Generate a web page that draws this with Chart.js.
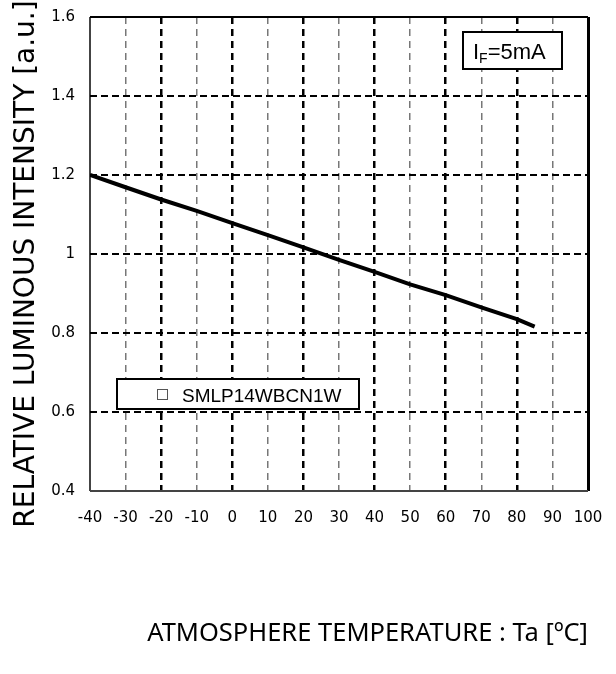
<!DOCTYPE html>
<html>
<head>
<meta charset="utf-8">
<script src="https://cdn.jsdelivr.net/npm/chart.js@4"></script>
<style>
  html, body { margin: 0; padding: 0; background: #fff; }
  #wrap { width: 616px; height: 674px; }
</style>
</head>
<body>
<div id="wrap"><canvas id="chart" width="616" height="674"></canvas></div>
<script>
// values, every 10 degC
const temperatures = [-40, -30, -20, -10, 0, 10, 20, 30, 40, 50, 60, 70, 80, 85];
const intensity = [1.200, 1.169, 1.138, 1.109, 1.078, 1.048, 1.017, 0.985, 0.955, 0.923, 0.896, 0.865, 0.835, 0.816];
const seriesName = 'SMLP14WBCN1W';

const xTickValues = [-40, -30, -20, -10, 0, 10, 20, 30, 40, 50, 60, 70, 80, 90, 100];
const yTickLabels = ['0.4', '0.6', '0.8', '1', '1.2', '1.4', '1.6'];

const xTitle = 'ATMOSPHERE TEMPERATURE : Ta [ºC]';
const yTitle = 'RELATIVE LUMINOUS INTENSITY [a.u.]';
const conditionText = ['I', 'F', '=5mA'];

const points = temperatures.map((t, i) => ({ x: t, y: intensity[i] }));

// boxed notes inside the plot (condition + series name) and the y title,
// which sits a bit lower than the plot centre in the original
const notesPlugin = {
    id: 'notes',
    afterDraw(chart) {
        const ctx = chart.ctx;
        const area = chart.chartArea;
        ctx.save();

        // I_F box, top right
        let bx = area.right - 125, by = area.top + 15, bw = 99, bh = 37;
        ctx.fillStyle = '#fff';
        ctx.fillRect(bx, by, bw, bh);
        ctx.strokeStyle = '#000';
        ctx.lineWidth = 2;
        ctx.strokeRect(bx, by, bw, bh);
        ctx.fillStyle = '#000';
        ctx.textBaseline = 'alphabetic';
        ctx.font = '22px "Liberation Sans", Arial, sans-serif';
        let tx = bx + 10;
        ctx.fillText(conditionText[0], tx, by + 27);
        tx += ctx.measureText(conditionText[0]).width;
        ctx.font = '14px "Liberation Sans", Arial, sans-serif';
        ctx.fillText(conditionText[1], tx, by + 31);
        tx += ctx.measureText(conditionText[1]).width;
        ctx.font = '22px "Liberation Sans", Arial, sans-serif';
        ctx.fillText(conditionText[2], tx, by + 27);

        // series box, lower left
        bx = area.left + 27; by = area.top + 362; bw = 242; bh = 30;
        ctx.fillStyle = '#fff';
        ctx.fillRect(bx, by, bw, bh);
        ctx.strokeStyle = '#000';
        ctx.lineWidth = 2;
        ctx.strokeRect(bx, by, bw, bh);
        ctx.strokeStyle = '#555';
        ctx.lineWidth = 1;
        ctx.strokeRect(bx + 40.5, by + 10.5, 10, 10);
        ctx.fillStyle = '#000';
        ctx.font = '19px "Liberation Sans", Arial, sans-serif';
        ctx.fillText(chart.data.datasets[0].label, bx + 65, by + 23);

        // y axis title
        ctx.translate(27, (area.top + area.bottom) / 2 + 10);
        ctx.rotate(-Math.PI / 2);
        ctx.textAlign = 'center';
        ctx.textBaseline = 'middle';
        ctx.font = '28px "DejaVu Sans"';
        ctx.fillText(yTitle, 0, 0);

        ctx.restore();
    }
};

const ctx = document.getElementById('chart');
new Chart(ctx, {
    type: 'line',
    data: {
        datasets: [{
            label: seriesName,
            data: points,
            borderColor: '#000',
            borderWidth: 4,
            pointRadius: 0,
            tension: 0,
            fill: false
        }]
    },
    options: {
        responsive: false,
        animation: false,
        devicePixelRatio: 1,
        layout: { padding: { top: 17, right: 28, left: 0, bottom: 0 } },
        plugins: {
            legend: { display: false },
            tooltip: { enabled: false }
        },
        scales: {
            x: {
                type: 'linear',
                min: -40,
                max: 100,
                afterBuildTicks: scale => {
                    scale.ticks = xTickValues.map(v => ({ value: v }));
                },
                afterFit: scale => {
                    scale.height = 183;
                    scale.paddingLeft = 0;
                    scale.paddingRight = 0;
                },
                grid: {
                    drawTicks: false,
                    color: c => {
                        const v = c.tick.value;
                        if (v === -40) return '#444';
                        if (v === 100) return '#000';
                        return v % 20 === 0 ? '#000' : '#777';
                    },
                    lineWidth: c => {
                        const v = c.tick.value;
                        if (v === 100) return 3;
                        if (v === -40) return 2;
                        return v % 20 === 0 ? 2.5 : 1.5;
                    }
                },
                border: {
                    display: false,
                    dash: c => (c.tick && (c.tick.value === -40 || c.tick.value === 100)) ? [] : [7, 5]
                },
                ticks: {
                    padding: 18,
                    color: '#000',
                    maxRotation: 0,
                    font: { family: '"DejaVu Sans"', size: 15 },
                    callback: v => String(v)
                },
                title: {
                    display: true,
                    text: xTitle,
                    align: 'end',
                    color: '#000',
                    font: { family: '"Noto Sans"', size: 25.5 },
                    padding: { top: 0, bottom: 25 }
                }
            },
            y: {
                min: 0.4,
                max: 1.6,
                ticks: {
                    stepSize: 0.2,
                    padding: 15,
                    color: '#000',
                    font: { family: '"DejaVu Sans"', size: 15 },
                    callback: (v, i) => yTickLabels[i]
                },
                afterFit: scale => {
                    scale.width = 90;
                    scale.paddingTop = 0;
                    scale.paddingBottom = 0;
                },
                grid: {
                    drawTicks: false,
                    color: c => (c.index === 0 ? '#444' : '#000'),
                    lineWidth: 2
                },
                border: {
                    display: false,
                    dash: c => (c.index === 0 || c.index === yTickLabels.length - 1) ? [] : [7, 4]
                }
            }
        }
    },
    plugins: [notesPlugin]
});
</script>
</body>
</html>
